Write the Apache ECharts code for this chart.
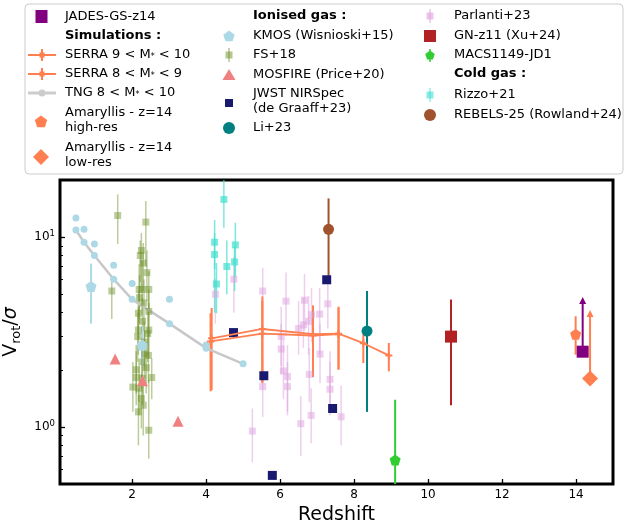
<!DOCTYPE html>
<html>
<head>
<meta charset="utf-8">
<script src="https://cdn.jsdelivr.net/npm/echarts@6/dist/echarts.min.js"></script>
<style>
  html, body { margin: 0; padding: 0; background: #fff; }
  #chart { width: 625px; height: 524px; }
</style>
</head>
<body>
<div id="chart"></div>
<script>
// ---- data (redshift, Vrot/sigma, lower, upper) ----
const tngZ = [0.48, 0.70, 0.98, 1.50, 2.00, 3.01, 4.00, 5.00];
const tngV = [10.9, 9.4, 8.0, 6.0, 4.7, 3.5, 2.6, 2.15];
const tngTopZ = [0.48, 0.70, 0.98, 1.50, 2.00, 3.01, 4.00];
const tngTopV = [12.6, 11.0, 9.2, 7.1, 5.7, 4.7, 2.7];

const serraHiZ = [4.15, 5.52, 6.89, 7.58, 8.25, 8.94];
const serraHiV = [2.93, 3.28, 3.08, 3.10, 2.76, 2.38];
const serraHiLo = [1.56, 1.70, 1.83, 2.01, 2.17, 1.96];
const serraHiUp = [4.23, 4.87, 4.37, 4.23, 3.07, 2.77];
const serraLoZ = [4.12, 5.52, 6.89, 7.58];
const serraLoV = [2.82, 3.10, 3.03, 3.08];
const serraLoLo = [1.54, 1.72, 1.85, 2.0];
const serraLoUp = [3.97, 4.6, 4.2, 4.3];

const kmosZ = [0.89, 2.27];
const kmosV = [5.5, 2.7];
const kmosLo = [3.5, 2.1];
const kmosUp = [7.25, 3.4];

const fsZ = [1.61, 1.45, 2.37, 2.25, 2.22, 2.30, 2.40, 2.19, 2.27, 2.45, 2.20, 2.32, 2.17, 2.45, 2.28, 2.17, 2.45,
  2.42, 2.15, 2.33, 2.34, 2.44, 2.26, 2.11, 2.38, 2.11, 2.28, 2.02, 2.53, 2.19, 2.25, 2.17, 2.30, 2.45];
const fsV = [13.0, 5.2, 12.0, 8.5, 8.0, 7.3, 6.5, 5.3, 5.3, 5.3, 4.8, 4.5, 3.97, 4.06, 3.6, 3.24, 3.24,
  3.1, 2.99, 2.8, 2.42, 2.38, 2.2, 2.0, 2.05, 1.82, 1.8, 1.62, 1.82, 1.6, 1.41, 1.2, 1.3, 0.96];
const fsLo = [9.2, 3.7, 7.0, 5.5, 5.8, 5.2, 4.6, 3.7, 3.9, 4.0, 3.5, 3.2, 2.9, 3.0, 2.6, 2.4, 2.3,
  2.2, 2.2, 2.0, 1.8, 1.7, 1.6, 1.5, 1.5, 1.3, 1.3, 1.2, 1.4, 1.15, 0.98, 0.8, 0.9, 0.68];
const fsUp = [16.8, 6.1, 15.5, 10.5, 9.6, 9.3, 8.5, 7.2, 7.5, 6.6, 6.3, 6.0, 5.2, 5.3, 4.8, 4.3, 4.5,
  4.1, 4.0, 3.6, 3.2, 3.3, 3.0, 2.7, 2.8, 2.5, 2.4, 2.2, 2.3, 2.1, 1.9, 1.6, 1.7, 1.77];

const mosfireZ = [1.54, 2.28, 3.24];
const mosfireV = [2.28, 1.75, 1.07];

const jwstZ = [4.74, 5.56, 5.79, 7.26, 7.42];
const jwstV = [3.14, 1.86, 0.555, 5.96, 1.25];

const liZ = [8.35];
const liV = [3.2];
const liLo = [1.2];
const liUp = [5.2];

const parlantiZ = [4.25, 4.75, 5.53, 6.16, 6.03, 6.03, 6.09, 6.20, 6.20, 5.53, 5.25, 6.66, 6.50, 6.77, 6.85, 7.07,
  7.29, 7.08, 6.79, 7.35, 7.35, 6.84, 6.56, 7.65, 6.63];
const parlantiV = [5.0, 6.0, 5.2, 4.6, 3.0, 2.57, 1.97, 1.84, 1.63, 1.63, 0.95, 4.65, 3.3, 3.6, 3.9, 3.93,
  4.45, 2.42, 1.89, 1.78, 1.58, 1.15, 1.04, 1.13, 3.45];
const parlantiLo = [3.5, 4.0, 3.3, 3.0, 2.1, 1.9, 1.4, 1.2, 1.15, 1.13, 0.65, 3.2, 2.4, 2.4, 2.8, 2.4,
  3.3, 1.7, 1.35, 1.25, 1.15, 0.82, 0.7, 0.8, 2.6];
const parlantiUp = [6.0, 7.9, 6.9, 6.5, 4.3, 3.5, 2.9, 2.7, 2.2, 2.3, 1.25, 6.4, 4.6, 4.9, 5.4, 5.4,
  6.0, 3.5, 2.6, 2.5, 2.2, 1.6, 1.45, 1.65, 4.8];

const gnZ = [10.62];
const gnV = [2.99];
const gnLo = [1.30];
const gnUp = [4.69];

const macsZ = [9.11];
const macsV = [0.67];
const macsLo = [0.3];
const macsUp = [1.39];

const rizzoZ = [4.48, 4.23, 4.23, 4.79, 4.77, 4.56, 4.28];
const rizzoV = [15.8, 9.4, 8.1, 9.1, 7.4, 7.0, 5.66];
const rizzoLo = [11.2, 6.8, 4.0, 6.2, 5.2, 5.0, 3.97];
const rizzoUp = [25, 12.3, 10.5, 11.9, 8.9, 9.6, 7.3];

const rebelsZ = [7.31];
const rebelsV = [11.0];
const rebelsLo = [5.96];
const rebelsUp = [16.0];

const jadesZ = [14.18];
const jadesV = [2.49];
const jadesLim = [4.78];

const amaHighZ = [13.99];
const amaHighV = [3.08];
const amaHighLo = [2.4];
const amaHighUp = [3.83];

const amaLowZ = [14.38];
const amaLowV = [1.80];
const amaLowLim = [4.08];

const xTicks = [2, 4, 6, 8, 10, 12, 14];
const yMajor = [1, 10];
const yMinor = [0.6, 0.7, 0.8, 0.9, 2, 3, 4, 5, 6, 7, 8, 9];

// ---- helpers ----
const FONT = '"DejaVu Sans", sans-serif';
const yMin = 0.5, yMax = 20;
const PENT = 'path://M0,-10 L9.51,-3.09 L5.88,8.09 L-5.88,8.09 L-9.51,-3.09 Z';
const PLUS = 'path://M-1,-3.5 L1,-3.5 L1,-1 L3.5,-1 L3.5,1 L1,1 L1,3.5 L-1,3.5 L-1,1 L-3.5,1 L-3.5,-1 L-1,-1 Z';

function pts(z, v) { return z.map((x, i) => [x, v[i]]); }
function rows(z, a, b) { return z.map((x, i) => [x, a[i], b[i]]); }

function errSeries(data, color, width, opacity) {
  return {
    type: 'custom', data: data, z: 2, silent: true,
    renderItem: function (params, api) {
      const x = api.value(0);
      const lo = Math.max(api.value(1), yMin), hi = Math.min(api.value(2), yMax);
      const a = api.coord([x, lo]), b = api.coord([x, hi]);
      return { type: 'line', shape: { x1: a[0], y1: a[1], x2: b[0], y2: b[1] },
        style: { stroke: color, lineWidth: width, opacity: opacity } };
    }
  };
}

function arrowSeries(data, color) {
  return {
    type: 'custom', data: data, z: 2, silent: true,
    renderItem: function (params, api) {
      const x = api.value(0);
      const a = api.coord([x, api.value(1)]), b = api.coord([x, api.value(2)]);
      return { type: 'group', children: [
        { type: 'line', shape: { x1: a[0], y1: a[1], x2: b[0], y2: b[1] + 4 }, style: { stroke: color, lineWidth: 2 } },
        { type: 'polygon', shape: { points: [[b[0], b[1] - 1], [b[0] - 3.5, b[1] + 6], [b[0] + 3.5, b[1] + 6]] }, style: { fill: color } }
      ] };
    }
  };
}

function scatter(data, symbol, size, color, opacity) {
  return { type: 'scatter', data: data, symbol: symbol, symbolSize: size, z: 3,
    itemStyle: { color: color, opacity: opacity === undefined ? 1 : opacity } };
}

// ---- legend drawn as graphic ----
const legendEls = [
  { type: 'rect', shape: { x: 25, y: 4, width: 598, height: 170, r: 4 }, style: { fill: '#fff', stroke: '#cccccc', lineWidth: 1 } }
];
const richText = {
  s: { fontSize: 8, fontFamily: FONT, fill: '#000', padding: [3, 0, 0, 0] }
};
function txt(x, y, s, bold) {
  legendEls.push({ type: 'text', x: x, y: y, style: { text: s, fill: '#000', font: (bold ? 'bold ' : '') + '13px ' + FONT,
    align: 'left', verticalAlign: 'middle', lineHeight: 15, rich: richText } });
}
function pentPts(cx, cy, r) {
  const p = [];
  for (let k = 0; k < 5; k++) {
    const t = -Math.PI / 2 + k * 2 * Math.PI / 5;
    p.push([cx + r * Math.cos(t), cy + r * Math.sin(t)]);
  }
  return p;
}
function lg(el) { legendEls.push(el); }

// column 1
lg({ type: 'rect', shape: { x: 35.5, y: 10, width: 12, height: 13 }, style: { fill: '#800080' } });
txt(65, 17, 'JADES-GS-z14');
txt(65, 36, 'Simulations :', true);
[55, 74].forEach(function (y) {
  lg({ type: 'line', shape: { x1: 28, y1: y, x2: 56, y2: y }, style: { stroke: '#FF7F50', lineWidth: 2 } });
  lg({ type: 'line', shape: { x1: 42, y1: y - 6, x2: 42, y2: y + 6 }, style: { stroke: '#FF7F50', lineWidth: 2 } });
  lg({ type: 'rect', shape: { x: 39.5, y: y - 2.5, width: 5, height: 5 }, style: { fill: '#FF7F50' } });
});
txt(65, 55, 'SERRA 9 < M{s|*} < 10');
txt(65, 74, 'SERRA 8 < M{s|*} < 9');
lg({ type: 'line', shape: { x1: 28, y1: 93, x2: 56, y2: 93 }, style: { stroke: '#CCCCCC', lineWidth: 3 } });
lg({ type: 'circle', shape: { cx: 42, cy: 93, r: 3.5 }, style: { fill: '#CCCCCC' } });
txt(65, 93, 'TNG 8 < M{s|*} < 10');
lg({ type: 'polygon', shape: { points: pentPts(41, 122, 6.5) }, style: { fill: '#FF7F50' } });
txt(65, 120, 'Amaryllis - z=14\nhigh-res');
lg({ type: 'polygon', shape: { points: [[41, 149], [49, 157], [41, 165], [33, 157]] }, style: { fill: '#FF7F50' } });
txt(65, 155, 'Amaryllis - z=14\nlow-res');

// column 2
txt(253, 16, 'Ionised gas :', true);
lg({ type: 'polygon', shape: { points: pentPts(229, 36.5, 6) }, style: { fill: '#ADD8E6' } });
txt(253, 36, 'KMOS (Wisnioski+15)');
lg({ type: 'line', shape: { x1: 229, y1: 48, x2: 229, y2: 62 }, style: { stroke: '#6B8E23', lineWidth: 1.5, opacity: 0.5 } });
lg({ type: 'rect', shape: { x: 225.5, y: 51.5, width: 7, height: 7 }, style: { fill: '#6B8E23', opacity: 0.5 } });
txt(253, 55, 'FS+18');
lg({ type: 'polygon', shape: { points: [[229, 69], [235.5, 80], [222.5, 80]] }, style: { fill: '#F08080' } });
txt(253, 75, 'MOSFIRE (Price+20)');
lg({ type: 'rect', shape: { x: 225, y: 99, width: 8, height: 8 }, style: { fill: '#191970' } });
txt(253, 101.5, 'JWST NIRSpec\n(de Graaff+23)');
lg({ type: 'circle', shape: { cx: 229, cy: 128, r: 6 }, style: { fill: '#008080' } });
txt(253, 128, 'Li+23');

// column 3
lg({ type: 'line', shape: { x1: 430, y1: 9, x2: 430, y2: 23 }, style: { stroke: '#DDA0DD', lineWidth: 1.5, opacity: 0.6 } });
lg({ type: 'rect', shape: { x: 426.5, y: 12.5, width: 7, height: 7 }, style: { fill: '#DDA0DD', opacity: 0.6 } });
txt(454, 16, 'Parlanti+23');
lg({ type: 'rect', shape: { x: 424, y: 30, width: 12, height: 12 }, style: { fill: '#B22222' } });
txt(454, 36, 'GN-z11 (Xu+24)');
lg({ type: 'line', shape: { x1: 430, y1: 49, x2: 430, y2: 62 }, style: { stroke: '#32CD32', lineWidth: 1.5 } });
lg({ type: 'polygon', shape: { points: pentPts(430, 55.5, 5) }, style: { fill: '#32CD32' } });
txt(454, 55, 'MACS1149-JD1');
txt(454, 74, 'Cold gas :', true);
lg({ type: 'line', shape: { x1: 430, y1: 88, x2: 430, y2: 102 }, style: { stroke: '#40E0D0', lineWidth: 1.5, opacity: 0.6 } });
lg({ type: 'rect', shape: { x: 426.5, y: 91.5, width: 7, height: 7 }, style: { fill: '#40E0D0', opacity: 0.6 } });
txt(454, 95, 'Rizzo+21');
lg({ type: 'circle', shape: { cx: 430, cy: 115, r: 6 }, style: { fill: '#A0522D' } });
txt(454, 115, 'REBELS-25 (Rowland+24)');

// ---- chart ----
const chart = echarts.init(document.getElementById('chart'));
const supLabel = function (v) { return '10{s|' + Math.round(Math.log10(v)) + '}'; };

const option = {
  animation: false,
  backgroundColor: '#fff',
  textStyle: { fontFamily: FONT },
  grid: { left: 60, right: 12, top: 180, bottom: 40, show: true, borderColor: '#000', borderWidth: 3,
    outerBoundsMode: 'none', containLabel: false },
  xAxis: {
    type: 'value', min: 0.05, max: 15,
    name: 'Redshift', nameLocation: 'middle', nameGap: 18,
    nameTextStyle: { fontSize: 19, color: '#000', fontFamily: FONT },
    axisLine: { show: false },
    splitLine: { show: false },
    axisTick: { inside: true, length: 5, customValues: xTicks, lineStyle: { color: '#000', width: 1.3 } },
    axisLabel: { customValues: xTicks, fontSize: 12, color: '#000', margin: 5, fontFamily: FONT }
  },
  yAxis: [
    {
      type: 'log', logBase: 10, min: yMin, max: yMax, position: 'left',
      name: '{a|V}{b|rot}{a|/}{c|\u03c3}', nameLocation: 'middle', nameGap: 27, nameRotate: 90,
      nameTextStyle: { color: '#000', rich: {
        a: { fontSize: 19, fontFamily: FONT, color: '#000' },
        b: { fontSize: 13, fontFamily: FONT, color: '#000', padding: [12, 0, 0, 0] },
        c: { fontSize: 19, fontFamily: FONT, color: '#000', fontStyle: 'italic' }
      } },
      axisLine: { show: false },
      splitLine: { show: false },
      axisTick: { inside: true, length: 5, customValues: yMajor, lineStyle: { color: '#000', width: 1.3 } },
      axisLabel: { customValues: yMajor, formatter: supLabel, color: '#000', fontSize: 12, margin: 5, fontFamily: FONT,
        rich: { s: { fontSize: 8.5, fontFamily: FONT, color: '#000', padding: [0, 0, 7, 0] } } }
    },
    {
      type: 'log', logBase: 10, min: yMin, max: yMax, position: 'left', offset: 0,
      axisLine: { show: false },
      splitLine: { show: false },
      axisTick: { inside: true, length: 3, customValues: yMinor, lineStyle: { color: '#000', width: 1 } },
      axisLabel: { show: false }
    }
  ],
  graphic: { elements: legendEls },
  series: [
    // TNG
    { type: 'line', data: pts(tngZ, tngV), z: 2, symbol: 'circle', symbolSize: 7,
      lineStyle: { color: '#C8C8C8', width: 2.5 }, itemStyle: { color: '#ADD8E6' } },
    scatter(pts(tngTopZ, tngTopV), 'circle', 7, '#ADD8E6'),
    // FS+18
    errSeries(rows(fsZ, fsLo, fsUp), '#6B8E23', 1.5, 0.45),
    scatter(pts(fsZ, fsV), 'rect', 7, '#6B8E23', 0.45),
    // KMOS
    errSeries(rows(kmosZ, kmosLo, kmosUp), '#ADD8E6', 2, 1),
    scatter(pts(kmosZ, kmosV), PENT, 11, '#ADD8E6'),
    // MOSFIRE
    scatter(pts(mosfireZ, mosfireV), 'triangle', 11, '#F08080'),
    // Parlanti
    errSeries(rows(parlantiZ, parlantiLo, parlantiUp), '#DDA0DD', 1.5, 0.5),
    scatter(pts(parlantiZ, parlantiV), 'rect', 7, '#DDA0DD', 0.5),
    // Rizzo
    errSeries(rows(rizzoZ, rizzoLo, rizzoUp), '#40E0D0', 1.5, 0.7),
    scatter(pts(rizzoZ, rizzoV), 'rect', 7, '#40E0D0', 0.7),
    // SERRA
    errSeries(rows(serraLoZ, serraLoLo, serraLoUp), '#FF7F50', 2, 1),
    errSeries(rows(serraHiZ, serraHiLo, serraHiUp), '#FF7F50', 2, 1),
    { type: 'line', data: pts(serraLoZ, serraLoV), z: 4, symbol: PLUS, symbolSize: 7,
      lineStyle: { color: '#FF7F50', width: 1.8 }, itemStyle: { color: '#FF7F50' } },
    { type: 'line', data: pts(serraHiZ, serraHiV), z: 4, symbol: PLUS, symbolSize: 7,
      lineStyle: { color: '#FF7F50', width: 1.8 }, itemStyle: { color: '#FF7F50' } },
    // JWST NIRSpec
    scatter(pts(jwstZ, jwstV), 'rect', 9, '#191970'),
    // REBELS-25
    errSeries(rows(rebelsZ, rebelsLo, rebelsUp), '#A0522D', 2, 1),
    scatter(pts(rebelsZ, rebelsV), 'circle', 11, '#A0522D'),
    // Li+23
    errSeries(rows(liZ, liLo, liUp), '#008080', 2, 1),
    scatter(pts(liZ, liV), 'circle', 11, '#008080'),
    // MACS1149-JD1
    errSeries(rows(macsZ, macsLo, macsUp), '#32CD32', 2, 1),
    scatter(pts(macsZ, macsV), PENT, 11, '#32CD32'),
    // GN-z11
    errSeries(rows(gnZ, gnLo, gnUp), '#B22222', 2, 1),
    scatter(pts(gnZ, gnV), 'rect', 12, '#B22222'),
    // Amaryllis
    errSeries(rows(amaHighZ, amaHighLo, amaHighUp), '#FF7F50', 2, 1),
    scatter(pts(amaHighZ, amaHighV), PENT, 11, '#FF7F50'),
    arrowSeries(rows(amaLowZ, amaLowV, amaLowLim), '#FF7F50'),
    scatter(pts(amaLowZ, amaLowV), 'diamond', 16, '#FF7F50'),
    // JADES-GS-z14
    arrowSeries(rows(jadesZ, jadesV, jadesLim), '#800080'),
    scatter(pts(jadesZ, jadesV), 'rect', 12, '#800080')
  ]
};
chart.setOption(option);
window.addEventListener('resize', function () { chart.resize(); });
</script>
</body>
</html>
